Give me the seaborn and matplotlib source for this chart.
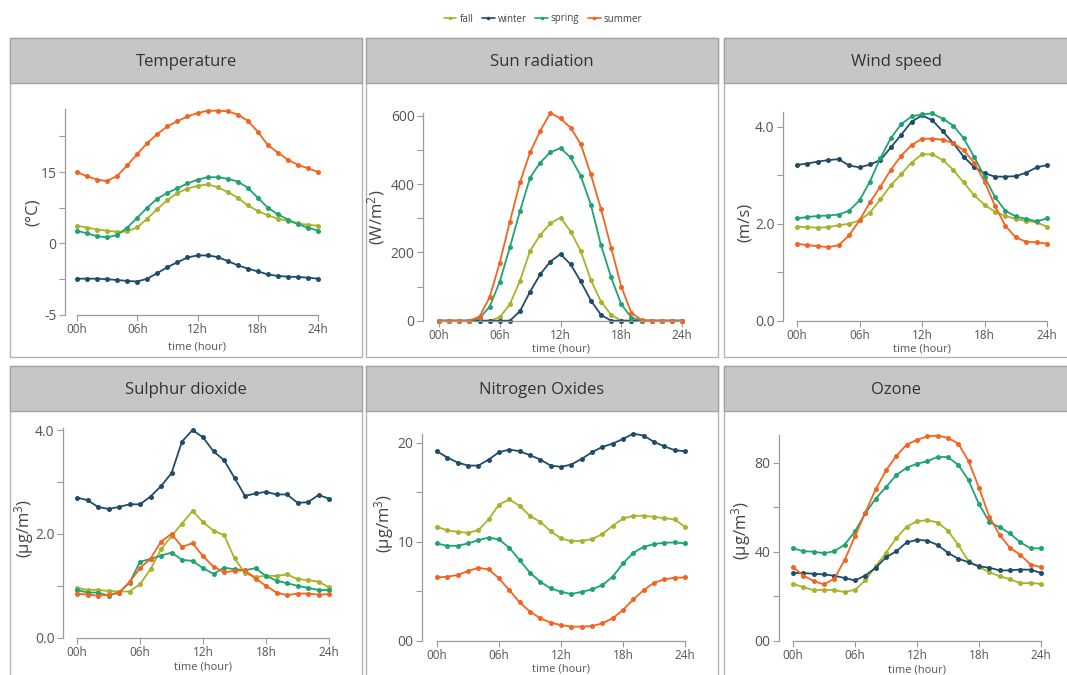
import numpy as np
import pandas as pd
import matplotlib
matplotlib.use("Agg")
import matplotlib.pyplot as plt
import seaborn as sns
from matplotlib.patches import Rectangle
from matplotlib.lines import Line2D

# ---------------- data ----------------
HOURS = list(range(25))
SEASONS = ["fall", "winter", "spring", "summer"]
HOUR_TICKS = [0, 6, 12, 18, 24]
HOUR_LABELS = ["00h", "06h", "12h", "18h", "24h"]

temp_fall = [3.7, 3.3, 2.9, 2.65, 2.4, 2.5, 3.35, 5.2, 7.2, 9.1, 10.6, 11.5, 12.1, 12.4, 11.8, 10.8, 9.6, 8.0, 6.8, 5.9, 5.2, 4.7, 4.2, 3.9, 3.7]
temp_winter = [-2.48, -2.48, -2.48, -2.52, -2.57, -2.64, -2.68, -2.48, -2.09, -1.67, -1.33, -0.99, -0.85, -0.85, -0.96, -1.24, -1.54, -1.77, -1.97, -2.18, -2.29, -2.34, -2.36, -2.41, -2.48]
temp_spring = [2.65, 2.1, 1.5, 1.25, 1.75, 3.3, 5.4, 7.5, 9.4, 10.6, 11.6, 12.6, 13.4, 13.9, 13.9, 13.6, 13.0, 11.7, 9.6, 7.5, 6.1, 5.0, 4.0, 3.3, 2.65]
temp_summer = [15.0, 14.1, 13.4, 13.1, 14.2, 16.4, 18.8, 21.1, 23.0, 24.6, 25.7, 26.7, 27.4, 27.9, 27.9, 27.8, 27.1, 25.8, 23.5, 20.7, 19.1, 17.6, 16.5, 15.8, 15.0]

sun_fall = [0, 0, 0, 0, 0, 0, 10, 48, 117, 205, 251, 285, 302, 261, 204, 119, 56, 17, 0, 0, 0, 0, 0, 0, 0]
sun_winter = [0, 0, 0, 0, 0, 0, 0, 0, 28, 85, 136, 173, 195, 165, 115, 59, 17, 0, 0, 0, 0, 0, 0, 0, 0]
sun_spring = [0, 0, 0, 0, 7, 41, 114, 215, 321, 419, 463, 493, 505, 478, 424, 339, 221, 127, 48, 9, 0, 0, 0, 0, 0]
sun_summer = [0, 0, 0, 0, 12, 68, 170, 290, 405, 493, 556, 608, 592, 565, 517, 428, 327, 214, 100, 23, 2, 0, 0, 0, 0]

wind_fall = [1.94, 1.93, 1.92, 1.93, 1.97, 2.00, 2.07, 2.23, 2.50, 2.79, 3.02, 3.26, 3.43, 3.43, 3.31, 3.11, 2.85, 2.59, 2.39, 2.25, 2.16, 2.10, 2.06, 2.03, 1.94]
wind_winter = [3.21, 3.24, 3.28, 3.31, 3.33, 3.20, 3.16, 3.22, 3.31, 3.57, 3.83, 4.10, 4.23, 4.13, 3.90, 3.66, 3.38, 3.17, 3.04, 2.97, 2.97, 2.98, 3.05, 3.16, 3.21]
wind_spring = [2.11, 2.14, 2.16, 2.17, 2.19, 2.27, 2.48, 2.87, 3.35, 3.76, 4.05, 4.21, 4.25, 4.27, 4.16, 4.02, 3.76, 3.38, 2.97, 2.55, 2.27, 2.15, 2.10, 2.05, 2.11]
wind_summer = [1.59, 1.56, 1.54, 1.52, 1.56, 1.76, 2.07, 2.44, 2.76, 3.11, 3.40, 3.62, 3.75, 3.75, 3.73, 3.66, 3.51, 3.26, 2.87, 2.37, 1.96, 1.72, 1.63, 1.62, 1.59]

so2_fall = [0.96, 0.92, 0.92, 0.90, 0.89, 0.89, 1.03, 1.32, 1.70, 1.96, 2.20, 2.44, 2.23, 2.06, 1.98, 1.53, 1.24, 1.17, 1.19, 1.19, 1.22, 1.13, 1.11, 1.08, 0.97]
so2_winter = [2.70, 2.65, 2.52, 2.48, 2.52, 2.57, 2.57, 2.72, 2.92, 3.17, 3.78, 4.00, 3.86, 3.59, 3.42, 3.08, 2.73, 2.78, 2.81, 2.76, 2.76, 2.60, 2.61, 2.75, 2.68]
so2_spring = [0.92, 0.87, 0.87, 0.81, 0.87, 1.06, 1.46, 1.52, 1.58, 1.64, 1.50, 1.48, 1.34, 1.23, 1.35, 1.32, 1.30, 1.34, 1.19, 1.10, 1.05, 1.00, 0.96, 0.92, 0.92]
so2_summer = [0.85, 0.83, 0.81, 0.83, 0.87, 1.07, 1.34, 1.52, 1.85, 2.00, 1.75, 1.82, 1.57, 1.37, 1.26, 1.29, 1.30, 1.14, 1.00, 0.87, 0.82, 0.85, 0.85, 0.83, 0.84]

nox_fall = [11.53, 11.16, 11.03, 10.92, 11.19, 12.27, 13.78, 14.29, 13.65, 12.61, 12.03, 11.09, 10.35, 10.08, 10.12, 10.29, 10.79, 11.63, 12.37, 12.64, 12.64, 12.54, 12.40, 12.27, 11.53]
nox_winter = [19.16, 18.52, 18.02, 17.71, 17.71, 18.32, 19.06, 19.33, 19.16, 18.76, 18.32, 17.71, 17.58, 17.82, 18.39, 19.06, 19.60, 19.93, 20.40, 20.94, 20.74, 20.10, 19.66, 19.26, 19.16]
nox_spring = [9.85, 9.61, 9.61, 9.85, 10.18, 10.45, 10.25, 9.41, 8.17, 6.89, 5.98, 5.31, 4.97, 4.74, 4.97, 5.21, 5.65, 6.49, 7.83, 8.91, 9.51, 9.78, 9.92, 9.95, 9.85]
nox_summer = [6.42, 6.49, 6.66, 7.06, 7.39, 7.23, 6.32, 5.14, 3.90, 2.96, 2.29, 1.85, 1.61, 1.45, 1.45, 1.51, 1.78, 2.29, 3.13, 4.20, 5.14, 5.88, 6.22, 6.39, 6.42]

o3_fall = [25.7, 24.2, 22.8, 23.0, 22.8, 22.0, 23.0, 27.2, 33.5, 39.6, 46.2, 51.4, 53.7, 54.3, 53.2, 49.5, 43.1, 35.7, 33.2, 30.9, 29.1, 27.7, 26.0, 26.0, 25.7]
o3_winter = [30.6, 30.5, 30.2, 29.9, 29.3, 28.3, 27.2, 29.4, 32.9, 37.6, 40.3, 44.3, 45.4, 45.1, 43.1, 39.6, 36.9, 35.4, 33.5, 32.9, 31.7, 31.7, 32.1, 32.0, 30.6]
o3_spring = [41.6, 40.3, 40.1, 39.4, 40.3, 43.3, 49.2, 57.4, 63.9, 69.1, 74.5, 77.8, 79.6, 80.7, 82.7, 82.5, 79.1, 72.1, 61.4, 53.5, 51.0, 48.3, 44.3, 41.6, 41.6]
o3_summer = [33.2, 29.4, 26.9, 25.4, 28.0, 36.4, 47.0, 57.7, 68.1, 76.6, 83.1, 88.2, 90.3, 91.9, 92.2, 91.2, 88.6, 80.7, 68.8, 55.8, 47.6, 41.8, 38.7, 34.3, 33.2]

TITLES = ["Temperature", "Sun radiation", "Wind speed", "Sulphur dioxide", "Nitrogen Oxides", "Ozone"]
YLABELS = ["(°C)", "(W/m$^2$)", "(m/s)", "(µg/m$^3$)", "(µg/m$^3$)", "(µg/m$^3$)"]
SERIES = [
    [temp_fall, temp_winter, temp_spring, temp_summer],
    [sun_fall, sun_winter, sun_spring, sun_summer],
    [wind_fall, wind_winter, wind_spring, wind_summer],
    [so2_fall, so2_winter, so2_spring, so2_summer],
    [nox_fall, nox_winter, nox_spring, nox_summer],
    [o3_fall, o3_winter, o3_spring, o3_summer],
]
YTICKS = [[-5, 0, 15], [0, 200, 400, 600], [0, 2, 4], [0, 2, 4], [0, 10, 20], [0, 40, 80]]
YTICK_LABELS = [["-5", "0", "15"], ["0", "200", "400", "600"], ["0.0", "2.0", "4.0"],
                ["0.0", "2.0", "4.0"], ["00", "10", "20"], ["00", "40", "80"]]
YMINOR = [[-2.5, 7.5, 22.5], [100, 300, 500], [1, 3], [1, 3], [5, 15], [20, 60]]
YLIMS = [(-5, 28.2), (0, 608), (0, 4.3), (0, 4.05), (0, 20.9), (0, 92.5)]

# ---------------- style ----------------
W, H = 1067, 675
COLORS = {"fall": "#a8b22a", "winter": "#1e4d6b", "spring": "#1ea471", "summer": "#f5631f"}
sns.set_theme(style="white")
plt.rcParams["font.family"] = ["Open Sans", "DejaVu Sans"]
plt.rcParams["mathtext.default"] = "regular"
TXT = "#555555"
AXC = "#9a9a9a"

fig = plt.figure(figsize=(W / 100, H / 100), dpi=100)
fig.patch.set_facecolor("white")

# panel frames (pixels: x, y, w, h) and header height
PANELS = [(10, 38, 352, 319), (366, 38, 352, 319), (724, 38, 350, 319),
          (10, 366, 352, 320), (366, 366, 352, 320), (724, 366, 350, 320)]
HEADER_H = 45

def add_rect(x, y, w, h, fc, ec, lw, z):
    fig.add_artist(Rectangle((x / W, 1 - (y + h) / H), w / W, h / H, transform=fig.transFigure,
                             facecolor=fc, edgecolor=ec, linewidth=lw, zorder=z))

for (px, py, pw, ph), title in zip(PANELS, TITLES):
    add_rect(px, py, pw, ph, "white", "#b4b4b4", 1.0, -3)
    add_rect(px, py, pw, HEADER_H, "#c6c6c6", "#a3a3a3", 1.0, -2)
    fig.text((px + pw / 2 if px + pw < W else px + 172) / W, 1 - (py + HEADER_H / 2 + 1) / H, title,
             ha="center", va="center", fontsize=12, color="#333333")

# axes layout in pixels: spine x, x of 0h, x of 24h, top y, bottom y, ylabel (x, y), xlabel y
LAYOUT = [
    (65, 77, 318, 109.3, 314.6, 33, 212, 347),
    (423, 439, 682, 113, 320.7, 376, 217, 349),
    (783, 797, 1047, 112, 321, 745, 222, 349),
    (63, 77, 329, 427.5, 637.7, 24, 528, 667),
    (422, 437, 685, 434, 641, 384, 523, 669),
    (779, 793, 1041, 435, 641, 741, 530, 670),
]

def fwd(v):
    v = np.asarray(v, dtype=float)
    return np.where(v < 0, 3.0 * v, v)

def inv(v):
    v = np.asarray(v, dtype=float)
    return np.where(v < 0, v / 3.0, v)

for i in range(6):
    spine, x0, x24, top, bot, ylx, yly, xly = LAYOUT[i]
    right = x24 + 5
    ax = fig.add_axes([spine / W, 1 - bot / H, (right - spine) / W, (bot - top) / H])
    ax.set_facecolor("none")
    df = pd.DataFrame({
        "hour": HOURS * 4,
        "value": sum(SERIES[i], []),
        "season": sum([[s] * len(HOURS) for s in SEASONS], []),
    })
    sns.lineplot(data=df, x="hour", y="value", hue="season", hue_order=SEASONS, palette=COLORS,
                 marker="o", markersize=3.6, markeredgewidth=0, linewidth=1.3,
                 estimator=None, errorbar=None, legend=False, ax=ax, clip_on=False)
    if i == 0:
        ax.set_yscale("function", functions=(fwd, inv))
    pxh = (x24 - x0) / 24.0
    ax.set_xlim(-(x0 - spine) / pxh, 24 + (right - x24) / pxh)
    ax.set_ylim(*YLIMS[i])
    ax.set_xticks(HOUR_TICKS, HOUR_LABELS)
    ax.set_yticks(YTICKS[i], YTICK_LABELS[i])
    ax.set_yticks(YMINOR[i], minor=True)
    for s in ["top", "right"]:
        ax.spines[s].set_visible(False)
    for s in ["left", "bottom"]:
        ax.spines[s].set_color(AXC)
        ax.spines[s].set_linewidth(0.9)
    ax.spines["bottom"].set_bounds(0, 24)
    ax.tick_params(axis="x", which="major", length=4, width=0.8, color=AXC, labelsize=8.5,
                   labelcolor=TXT, pad=2, bottom=True)
    ax.tick_params(axis="y", which="both", length=4, width=0.8, color=AXC, labelsize=10,
                   labelcolor=TXT, pad=2, left=True)
    ax.grid(False)
    ax.set_xlabel("time (hour)", fontsize=8, color=TXT)
    ax.set_ylabel(YLABELS[i], fontsize=12, color="#444444")
    # place labels at pixel positions
    axw, axh = right - spine, bot - top
    ax.xaxis.set_label_coords(((x0 + x24) / 2 - spine) / axw, (bot - xly) / axh)
    ax.yaxis.set_label_coords((ylx - spine) / axw, (bot - yly) / axh)
    ax.xaxis.label.set_va("center")
    ax.yaxis.label.set_va("center")
    ax.yaxis.label.set_ha("center")

handles = [Line2D([], [], color=COLORS[s], marker="o", markersize=2.6, markeredgewidth=0, lw=1.2)
           for s in SEASONS]
fig.legend(handles, SEASONS, loc="center", bbox_to_anchor=(543 / W, 1 - 19 / H), ncol=4,
           frameon=False, fontsize=7, handlelength=1.3, handletextpad=0.3, columnspacing=0.9,
           labelcolor="#444444")

fig.savefig("out.png", dpi=100, facecolor="white")
